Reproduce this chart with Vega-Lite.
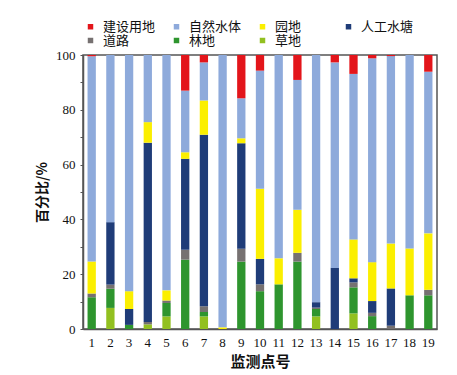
{
  "$schema": "https://vega.github.io/schema/vega-lite/v6.json",
  "autosize": {"type": "none"},
  "padding": {"left": 83, "top": 55, "right": 20, "bottom": 46},
  "width": 354,
  "height": 274,
  "config": {
    "view": {"stroke": "#555555", "strokeWidth": 1.5},
    "axis": {"domainColor": "#555555", "domainWidth": 1.5, "grid": false, "labelFont": "Liberation Serif", "labelFontSize": 13, "labelColor": "#111111", "tickColor": "#555555", "titleFont": "Noto Sans CJK SC", "titleFontWeight": "bold", "titleFontSize": 14, "titleColor": "#111111"}
  },
  "data": {"values": [
    {"site": 1, "type": "林地", "pct": 11.6}, {"site": 1, "type": "道路", "pct": 1.4}, {"site": 1, "type": "园地", "pct": 11.6}, {"site": 1, "type": "自然水体", "pct": 74.9}, {"site": 1, "type": "建设用地", "pct": 0.5},
    {"site": 2, "type": "草地", "pct": 7.7}, {"site": 2, "type": "林地", "pct": 7.0}, {"site": 2, "type": "道路", "pct": 1.5}, {"site": 2, "type": "人工水塘", "pct": 22.8}, {"site": 2, "type": "自然水体", "pct": 61.0},
    {"site": 3, "type": "林地", "pct": 1.5}, {"site": 3, "type": "人工水塘", "pct": 5.8}, {"site": 3, "type": "园地", "pct": 6.5}, {"site": 3, "type": "自然水体", "pct": 86.2},
    {"site": 4, "type": "草地", "pct": 1.7}, {"site": 4, "type": "道路", "pct": 0.9}, {"site": 4, "type": "人工水塘", "pct": 65.4}, {"site": 4, "type": "园地", "pct": 7.5}, {"site": 4, "type": "自然水体", "pct": 24.5},
    {"site": 5, "type": "草地", "pct": 4.6}, {"site": 5, "type": "林地", "pct": 4.9}, {"site": 5, "type": "道路", "pct": 0.9}, {"site": 5, "type": "园地", "pct": 3.7}, {"site": 5, "type": "自然水体", "pct": 85.9},
    {"site": 6, "type": "林地", "pct": 25.3}, {"site": 6, "type": "道路", "pct": 3.6}, {"site": 6, "type": "人工水塘", "pct": 33.2}, {"site": 6, "type": "园地", "pct": 2.4}, {"site": 6, "type": "自然水体", "pct": 22.5}, {"site": 6, "type": "建设用地", "pct": 13.0},
    {"site": 7, "type": "草地", "pct": 4.6}, {"site": 7, "type": "林地", "pct": 1.6}, {"site": 7, "type": "道路", "pct": 2.1}, {"site": 7, "type": "人工水塘", "pct": 62.6}, {"site": 7, "type": "园地", "pct": 12.5}, {"site": 7, "type": "自然水体", "pct": 13.9}, {"site": 7, "type": "建设用地", "pct": 2.7},
    {"site": 8, "type": "园地", "pct": 0.6}, {"site": 8, "type": "自然水体", "pct": 99.4},
    {"site": 9, "type": "林地", "pct": 24.6}, {"site": 9, "type": "道路", "pct": 4.7}, {"site": 9, "type": "人工水塘", "pct": 38.5}, {"site": 9, "type": "园地", "pct": 1.8}, {"site": 9, "type": "自然水体", "pct": 14.6}, {"site": 9, "type": "建设用地", "pct": 15.8},
    {"site": 10, "type": "林地", "pct": 13.8}, {"site": 10, "type": "道路", "pct": 2.5}, {"site": 10, "type": "人工水塘", "pct": 9.3}, {"site": 10, "type": "园地", "pct": 25.6}, {"site": 10, "type": "自然水体", "pct": 43.1}, {"site": 10, "type": "建设用地", "pct": 5.7},
    {"site": 11, "type": "林地", "pct": 16.3}, {"site": 11, "type": "园地", "pct": 9.5}, {"site": 11, "type": "自然水体", "pct": 74.2},
    {"site": 12, "type": "林地", "pct": 24.6}, {"site": 12, "type": "道路", "pct": 3.2}, {"site": 12, "type": "园地", "pct": 15.7}, {"site": 12, "type": "自然水体", "pct": 47.4}, {"site": 12, "type": "建设用地", "pct": 9.1},
    {"site": 13, "type": "草地", "pct": 4.6}, {"site": 13, "type": "林地", "pct": 2.7}, {"site": 13, "type": "道路", "pct": 0.5}, {"site": 13, "type": "人工水塘", "pct": 2.0}, {"site": 13, "type": "自然水体", "pct": 90.2},
    {"site": 14, "type": "人工水塘", "pct": 22.3}, {"site": 14, "type": "自然水体", "pct": 75.0}, {"site": 14, "type": "建设用地", "pct": 2.7},
    {"site": 15, "type": "草地", "pct": 5.7}, {"site": 15, "type": "林地", "pct": 9.5}, {"site": 15, "type": "道路", "pct": 1.8}, {"site": 15, "type": "人工水塘", "pct": 1.5}, {"site": 15, "type": "园地", "pct": 14.2}, {"site": 15, "type": "自然水体", "pct": 60.4}, {"site": 15, "type": "建设用地", "pct": 6.9},
    {"site": 16, "type": "林地", "pct": 4.7}, {"site": 16, "type": "道路", "pct": 1.2}, {"site": 16, "type": "人工水塘", "pct": 4.3}, {"site": 16, "type": "园地", "pct": 14.2}, {"site": 16, "type": "自然水体", "pct": 74.4}, {"site": 16, "type": "建设用地", "pct": 1.2},
    {"site": 17, "type": "道路", "pct": 1.2}, {"site": 17, "type": "人工水塘", "pct": 13.6}, {"site": 17, "type": "园地", "pct": 16.4}, {"site": 17, "type": "自然水体", "pct": 68.4}, {"site": 17, "type": "建设用地", "pct": 0.4},
    {"site": 18, "type": "林地", "pct": 12.3}, {"site": 18, "type": "园地", "pct": 17.1}, {"site": 18, "type": "自然水体", "pct": 70.6},
    {"site": 19, "type": "林地", "pct": 12.3}, {"site": 19, "type": "道路", "pct": 2.0}, {"site": 19, "type": "园地", "pct": 20.6}, {"site": 19, "type": "自然水体", "pct": 59.0}, {"site": 19, "type": "建设用地", "pct": 6.1}
  ]},
  "transform": [
    {"calculate": "indexof(['草地','林地','道路','人工水塘','园地','自然水体','建设用地'], datum.type)", "as": "stackOrder"}
  ],
  "mark": {"type": "bar"},
  "encoding": {
    "x": {
      "field": "site", "type": "ordinal",
      "scale": {"paddingInner": 0.556, "paddingOuter": 0.243},
      "axis": {"title": "监测点号", "labelAngle": 0, "ticks": false, "labelPadding": 7, "titlePadding": 5, "titleFontSize": 15}
    },
    "y": {
      "field": "pct", "type": "quantitative", "stack": "zero",
      "scale": {"domain": [0, 100], "nice": false},
      "axis": {"title": "百分比/%", "values": [0, 10, 20, 30, 40, 50, 60, 70, 80, 90, 100], "labelExpr": "datum.value % 20 === 0 ? datum.label : ''", "tickSize": 3, "labelPadding": 5, "titlePadding": 6}
    },
    "color": {
      "field": "type", "type": "nominal",
      "scale": {
        "domain": ["建设用地", "自然水体", "园地", "人工水塘", "道路", "林地", "草地"],
        "range": ["#e3151b", "#8eaadb", "#fbef00", "#1f3c78", "#767171", "#2e952e", "#92c020"]
      },
      "legend": {
        "title": null, "orient": "none", "legendX": 1, "legendY": -35,
        "direction": "horizontal", "columns": 4, "gridAlign": "all",
        "columnPadding": 14, "rowPadding": 0,
        "symbolType": "square", "symbolSize": 30, "symbolStrokeWidth": 0,
        "labelFont": "Noto Sans CJK SC", "labelFontSize": 13, "labelColor": "#111111", "labelOffset": 6
      }
    },
    "order": {"field": "stackOrder", "type": "quantitative"}
  }
}
